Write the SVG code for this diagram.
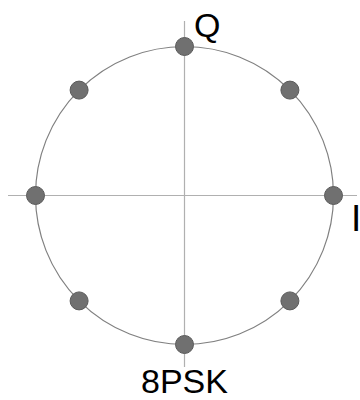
<svg xmlns="http://www.w3.org/2000/svg" width="360" height="400" viewBox="0 0 360 400">
<style>
.axis{stroke:#b0b0b0;stroke-width:1.2;fill:none}
.ring{stroke:#808080;stroke-width:1.2;fill:none}
.dot{fill:#707070;stroke:#5a5a5a;stroke-width:1}
.lbl{font-family:"Liberation Sans",Arial,sans-serif;fill:#000}
</style>
<rect width="360" height="400" fill="#fff"/>
<g id="connectors">
<line class="axis" x1="184.5" y1="21" x2="184.5" y2="367"/>
<line class="axis" x1="8" y1="195.5" x2="357" y2="195.5"/>
<circle class="ring" cx="184.5" cy="195.5" r="149"/>
</g>
<g id="p0"><circle class="dot" cx="333.5" cy="195.5" r="9"/></g>
<g id="p1"><circle class="dot" cx="289.9" cy="90.1" r="9"/></g>
<g id="p2"><circle class="dot" cx="184.5" cy="46.5" r="9"/></g>
<g id="p3"><circle class="dot" cx="79.1" cy="90.1" r="9"/></g>
<g id="p4"><circle class="dot" cx="35.5" cy="195.5" r="9"/></g>
<g id="p5"><circle class="dot" cx="79.1" cy="300.9" r="9"/></g>
<g id="p6"><circle class="dot" cx="184.5" cy="344.5" r="9"/></g>
<g id="p7"><circle class="dot" cx="289.9" cy="300.9" r="9"/></g>
<g id="labelQ"><text class="lbl" x="194" y="37" font-size="34">Q</text></g>
<g id="labelI"><text class="lbl" x="351" y="231" font-size="37">I</text></g>
<g id="title"><text class="lbl" x="184.5" y="393" font-size="34" text-anchor="middle">8PSK</text></g>
</svg>
